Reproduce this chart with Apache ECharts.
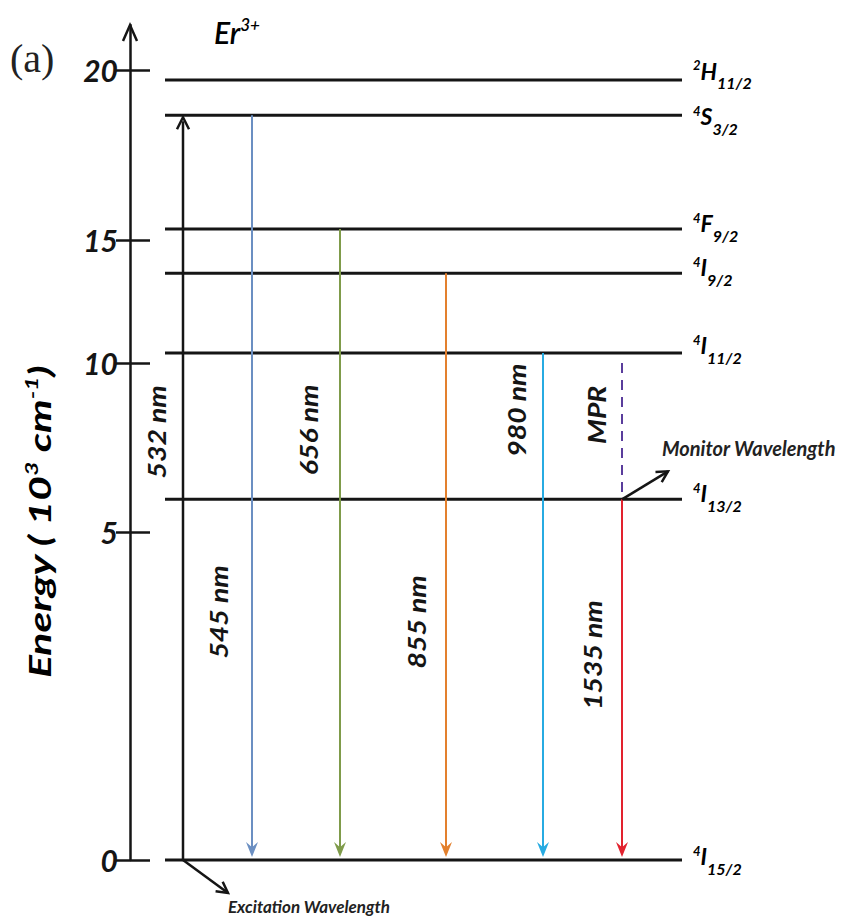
<!DOCTYPE html>
<html>
<head>
<meta charset="utf-8">
<title>Er3+ energy levels</title>
<script src="https://cdn.jsdelivr.net/npm/echarts@6/dist/echarts.min.js"></script>
<style>
  html, body { margin: 0; padding: 0; background: #fff; }
  #chart { width: 843px; height: 916px; }
</style>
</head>
<body>
<div id="chart"></div>
<script>
// 能级 (10^3 cm^-1)
var levelNames = ['4I15/2', '4I13/2', '4I11/2', '4I9/2', '4F9/2', '4S3/2', '2H11/2'];
var levelEnergy = [0, 5.97, 10.41, 13.65, 15.32, 18.67, 19.71];

// 跃迁：起点 / 终点能量
var transNames = ['532 nm', '545 nm', '656 nm', '855 nm', '980 nm', 'MPR', '1535 nm'];
var transFrom = [0, 18.67, 15.32, 13.65, 10.41, 10.0, 5.97];
var transTo = [18.67, 0, 0, 0, 0, 5.97, 0];

// 纵轴刻度
var tickLabels = ['0', '5', '10', '15', '20'];
var tickEnergy = [0, 5, 10, 15, 20];
// 原图刻度间距不均匀，这里是各刻度在轴上的位置
var tickHeight = [0, 8.30, 12.58, 15.70, 20];
var yMax = 21.14;

// 布局 / 样式
var FONT = 'Lato, "Open Sans", sans-serif';
var INK = '#151515';
var levelX = [165, 682];
var levelLabelDy = [-4, -6, -8, -6, -6, 1, -9];
var transX = [183, 252, 340, 446, 543, 622, 622];
var transColor = ['#151515', '#6b8fc2', '#7f9b4a', '#e3802e', '#27abe2', '#5a3d9c', '#e2222e'];
var transWidth = [2.5, 2, 2, 2, 2, 2, 2];
var transLabelDx = [-26, -33, -31, -29, -26, -25, -29];
var transLabelH = [10.84, 6.28, 10.89, 6.03, 11.39, 11.27, 5.19];

// 能量 -> 轴上位置 (分段线性)
function warp(e) {
    for (var i = 1; i < tickEnergy.length; i++) {
        if (e <= tickEnergy[i] || i === tickEnergy.length - 1) {
            var t = (e - tickEnergy[i - 1]) / (tickEnergy[i] - tickEnergy[i - 1]);
            return tickHeight[i - 1] + t * (tickHeight[i] - tickHeight[i - 1]);
        }
    }
}

// 空心箭头 (折线)
function chevron(tip, ang, len, half, color, width) {
    var c = Math.cos(ang), s = Math.sin(ang);
    var bx = tip[0] - c * len, by = tip[1] - s * len;
    return {
        type: 'polyline',
        shape: { points: [[bx - s * half, by + c * half], tip, [bx + s * half, by - c * half]] },
        style: { stroke: color, lineWidth: width, fill: null }
    };
}
// 实心箭头
function head(tip, ang, len, half, color) {
    var c = Math.cos(ang), s = Math.sin(ang);
    var bx = tip[0] - c * len, by = tip[1] - s * len;
    var nx = tip[0] - c * len * 0.65, ny = tip[1] - s * len * 0.65;
    return {
        type: 'polygon',
        shape: { points: [tip, [bx - s * half, by + c * half], [nx, ny], [bx + s * half, by - c * half]] },
        style: { fill: color }
    };
}

var labelBase = { fontFamily: FONT, fontStyle: 'italic', fontWeight: 'bold', color: INK };
var richLevel = {
    sup: Object.assign({ fontSize: 13, padding: [0, 0, 11, 0] }, labelBase),
    m: Object.assign({ fontSize: 23 }, labelBase),
    sub: Object.assign({ fontSize: 16, padding: [24, 0, 0, 0] }, labelBase)
};
var levelRich = levelNames.map(function (n) {
    return '{sup|' + n[0] + '}{m|' + n[1] + '}{sub|' + n.slice(2) + '}';
});

var levelData = levelEnergy.map(function (e) { return [levelX[0], warp(e)]; });
var transData = transNames.map(function (n, i) {
    return [transX[i], warp(transFrom[i]), warp(transTo[i]), transLabelH[i]];
});

var chart = echarts.init(document.getElementById('chart'), null, { renderer: 'svg' });

var option = {
    backgroundColor: '#fff',
    animation: false,
    grid: { left: 130, right: 0, top: 25, bottom: 56 },
    xAxis: { type: 'value', min: 130, max: 843, show: false },
    yAxis: [{
        type: 'value', min: 0, max: yMax, position: 'left',
        axisLine: { show: true, lineStyle: { color: INK, width: 2.5 } },
        axisTick: { show: true, inside: true, length: 20, customValues: tickHeight, lineStyle: { color: INK, width: 2.5 } },
        axisLabel: {
            customValues: tickHeight,
            margin: 12,
            fontFamily: FONT, fontStyle: 'italic', fontWeight: 'bold', fontSize: 30, color: INK,
            formatter: function (v) {
                var k = 0;
                tickHeight.forEach(function (h, i) { if (Math.abs(h - v) < Math.abs(tickHeight[k] - v)) k = i; });
                return tickLabels[k];
            }
        },
        splitLine: { show: false }
    }, {
        type: 'value', min: 0, max: yMax, position: 'left',
        axisLine: { show: false },
        axisTick: { show: true, inside: false, length: 14, customValues: tickHeight, lineStyle: { color: INK, width: 2.5 } },
        axisLabel: { show: false },
        splitLine: { show: false }
    }],
    graphic: [
        {
            type: 'text', left: 10, top: 38,
            style: { text: '(a)', fontFamily: '"Liberation Serif", serif', fontSize: 40, fill: '#222' }
        },
        {
            type: 'text', x: 214, y: 32,
            style: {
                text: '{a|Er}{s|3+}', verticalAlign: 'middle',
                rich: {
                    a: { fontFamily: FONT, fontStyle: 'italic', fontWeight: 600, fontSize: 30, color: INK },
                    s: { fontFamily: FONT, fontStyle: 'italic', fontWeight: 600, fontSize: 17, color: INK, padding: [0, 0, 16, 0] }
                }
            }
        },
        {
            type: 'text', x: 40, y: 522, rotation: Math.PI / 2, scaleX: 1.42,
            style: {
                text: '{a|Energy ( 10}{s|3}{a| cm}{s|-1}{a|)}', align: 'center', verticalAlign: 'middle',
                rich: {
                    a: { fontFamily: FONT, fontStyle: 'italic', fontWeight: 'bold', fontSize: 30, color: INK },
                    s: { fontFamily: FONT, fontStyle: 'italic', fontWeight: 'bold', fontSize: 17, color: INK, padding: [0, 0, 17, 0] }
                }
            }
        }
    ],
    series: [
        {
            // 能级线
            type: 'custom',
            coordinateSystem: 'cartesian2d',
            data: levelData,
            encode: { x: 0, y: 1 },
            clip: false,
            renderItem: function (params, api) {
                var i = params.dataIndex;
                var a = api.coord([levelX[0], api.value(1)]);
                var b = api.coord([levelX[1], api.value(1)]);
                return {
                    type: 'group',
                    children: [
                        { type: 'line', shape: { x1: a[0], y1: a[1], x2: b[0], y2: b[1] }, style: { stroke: INK, lineWidth: 3 } },
                        {
                            type: 'text', x: b[0] + 11, y: b[1] + levelLabelDy[i],
                            style: { text: levelRich[i], rich: richLevel, align: 'left', verticalAlign: 'middle' }
                        }
                    ]
                };
            }
        },
        {
            // 跃迁箭头
            type: 'custom',
            coordinateSystem: 'cartesian2d',
            data: transData,
            encode: { x: 0, y: [1, 2] },
            clip: false,
            renderItem: function (params, api) {
                var i = params.dataIndex;
                var x = api.value(0);
                var p1 = api.coord([x, api.value(1)]);
                var p2 = api.coord([x, api.value(2)]);
                var pl = api.coord([x, api.value(3)]);
                var down = p2[1] > p1[1];
                var isMPR = transNames[i] === 'MPR';
                var tip = isMPR ? p2 : [p2[0], p2[1] + (down ? -3 : 2)];
                var kids = [{
                    type: 'line',
                    shape: { x1: p1[0], y1: p1[1], x2: tip[0], y2: tip[1] + (isMPR ? 0 : (down ? -4 : 4)) },
                    style: { stroke: transColor[i], lineWidth: transWidth[i], lineDash: isMPR ? [10, 7] : null }
                }];
                if (!isMPR) {
                    if (down) kids.push(head(tip, Math.PI / 2, 15, 6, transColor[i]));
                    else kids.push(chevron(tip, -Math.PI / 2, 12, 6, transColor[i], 2.5));
                }
                kids.push({
                    type: 'text', x: p1[0] + transLabelDx[i], y: pl[1], rotation: Math.PI / 2, scaleX: 1.18,
                    style: {
                        text: transNames[i], align: 'center', verticalAlign: 'middle',
                        fontFamily: FONT, fontStyle: 'italic', fontWeight: 'bold', fontSize: 24, fill: INK
                    }
                });
                return { type: 'group', children: kids };
            }
        },
        {
            // 激发 / 监测波长标注
            type: 'custom',
            coordinateSystem: 'cartesian2d',
            data: [[transX[0], warp(levelEnergy[0])], [transX[6], warp(levelEnergy[1])]],
            encode: { x: 0, y: 1 },
            clip: false,
            renderItem: function (params, api) {
                var p = api.coord([api.value(0), api.value(1)]);
                var vec = [[45, 33], [46, -28]][params.dataIndex];
                var txt = ['Excitation Wavelength', 'Monitor Wavelength'][params.dataIndex];
                var tOff = [[45, 46], [40, -51]][params.dataIndex];
                var fs = [17, 20][params.dataIndex];
                var end = [p[0] + vec[0], p[1] + vec[1]];
                return {
                    type: 'group',
                    children: [
                        { type: 'line', shape: { x1: p[0], y1: p[1], x2: end[0], y2: end[1] }, style: { stroke: INK, lineWidth: 2.5 } },
                        chevron(end, Math.atan2(vec[1], vec[0]), 11, 6, INK, 2.5),
                        {
                            type: 'text', x: p[0] + tOff[0], y: p[1] + tOff[1],
                            style: {
                                text: txt, align: 'left', verticalAlign: 'middle',
                                fontFamily: FONT, fontStyle: 'italic', fontWeight: 'bold', fontSize: fs, fill: '#222'
                            }
                        }
                    ]
                };
            }
        },
        {
            // 纵轴顶端箭头
            type: 'custom',
            coordinateSystem: 'cartesian2d',
            data: [[130, yMax]],
            encode: { x: 0, y: 1 },
            clip: false,
            renderItem: function (params, api) {
                var p = api.coord([api.value(0), api.value(1)]);
                return chevron(p, -Math.PI / 2, 16, 7, INK, 2.5);
            }
        }
    ]
};

chart.setOption(option);
</script>
</body>
</html>
